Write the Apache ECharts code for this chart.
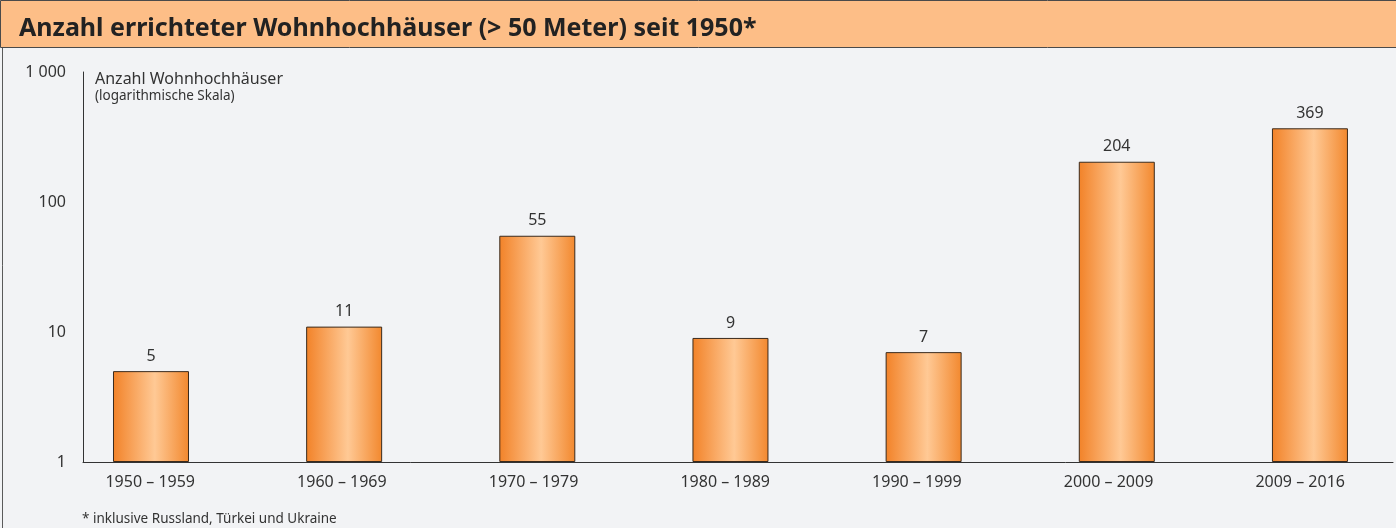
<!DOCTYPE html>
<html>
<head>
<meta charset="utf-8">
<script src="https://cdn.jsdelivr.net/npm/echarts@6/dist/echarts.min.js"></script>
<style>
  html, body { margin: 0; padding: 0; background: #f2f3f5; }
  #chart { width: 1396px; height: 528px; }
</style>
</head>
<body>
<div id="chart"></div>
<script>
// Zeiträume und Anzahl errichteter Wohnhochhäuser
const periods = ['1950 – 1959', '1960 – 1969', '1970 – 1979', '1980 – 1989', '1990 – 1999', '2000 – 2009', '2009 – 2016']
const counts = [5, 11, 55, 9, 7, 204, 369]
const yTicks = [1, 10, 100, 1000]

const font = '"Noto Sans", "Open Sans", sans-serif'
const textColor = '#333333'

// Balken-Farbverlauf (horizontal)
const barColor = new echarts.graphic.LinearGradient(0, 0, 1, 0, [
  { offset: 0, color: '#f28228' },
  { offset: 0.55, color: '#ffc995' },
  { offset: 1, color: '#f2882e' }
])

let chart = echarts.init(document.getElementById('chart'))

// Balken liegen auf einer Werteachse: Kategorie i bei x = i
const barData = counts.map((v, i) => [i, v])

chart.setOption({
  backgroundColor: '#f2f3f5',
  animation: false,
  textStyle: { fontFamily: font },
  graphic: [
    // Titelband
    {
      type: 'rect', left: 0, top: 0, z: -1,
      shape: { width: 1396, height: 47 },
      style: { fill: '#fdbe87', stroke: '#4a4a4a', lineWidth: 1 }
    },
    // Rahmen
    {
      type: 'rect', left: 0, top: 0, z: -2,
      shape: { x: 0.5, y: 0.5, width: 1395, height: 527 },
      style: { fill: 'none', stroke: '#5a5a5a', lineWidth: 1 }
    }
  ],
  title: [
    {
      text: 'Anzahl errichteter Wohnhochhäuser (> 50 Meter) seit 1950*',
      left: 14, top: 11,
      textStyle: { fontFamily: font, fontSize: 25, fontWeight: 'bold', color: '#222222' }
    },
    {
      text: 'Anzahl Wohnhochhäuser',
      subtext: '(logarithmische Skala)',
      left: 90, top: 66, itemGap: 2,
      textStyle: { fontFamily: font, fontSize: 16, fontWeight: 'normal', color: textColor },
      subtextStyle: { fontFamily: font, fontSize: 13.5, color: textColor }
    },
    {
      text: '* inklusive Russland, Türkei und Ukraine',
      left: 77, top: 507,
      textStyle: { fontFamily: font, fontSize: 13.5, fontWeight: 'normal', color: textColor }
    }
  ],
  grid: [
    { left: 83, right: 3, top: 72, height: 390 },
    { left: 54.4, right: -10.8, top: 72, height: 390 }
  ],
  xAxis: [
    {
      type: 'value', gridIndex: 0,
      min: -0.352, max: 6.43,
      axisLine: { show: true, onZero: false, lineStyle: { color: '#333333', width: 1 } },
      axisTick: { show: false },
      axisLabel: { show: false },
      splitLine: { show: false }
    },
    {
      type: 'category', gridIndex: 1,
      data: periods,
      axisLine: { show: false },
      axisTick: { show: false },
      axisLabel: { color: textColor, fontSize: 16, margin: 12, interval: 0 }
    }
  ],
  yAxis: [
    {
      type: 'log', gridIndex: 0, logBase: 10,
      min: yTicks[0], max: yTicks[yTicks.length - 1],
      axisLine: { show: true, onZero: false, lineStyle: { color: '#333333', width: 1 } },
      axisTick: { show: false },
      splitLine: { show: false },
      axisLabel: {
        color: textColor, fontSize: 16, margin: 17,
        formatter: v => String(v).replace(/\B(?=(\d{3})+(?!\d))/g, ' ')
      }
    },
    { type: 'value', gridIndex: 1, show: false }
  ],
  series: [{
    type: 'bar',
    xAxisIndex: 0, yAxisIndex: 0,
    data: barData,
    barWidth: 76,
    itemStyle: { color: barColor, borderColor: '#3a2a1c', borderWidth: 1 },
    label: {
      show: true, position: 'top', distance: 7,
      color: textColor, fontSize: 16,
      formatter: p => p.value[1]
    }
  }]
})
</script>
</body>
</html>
